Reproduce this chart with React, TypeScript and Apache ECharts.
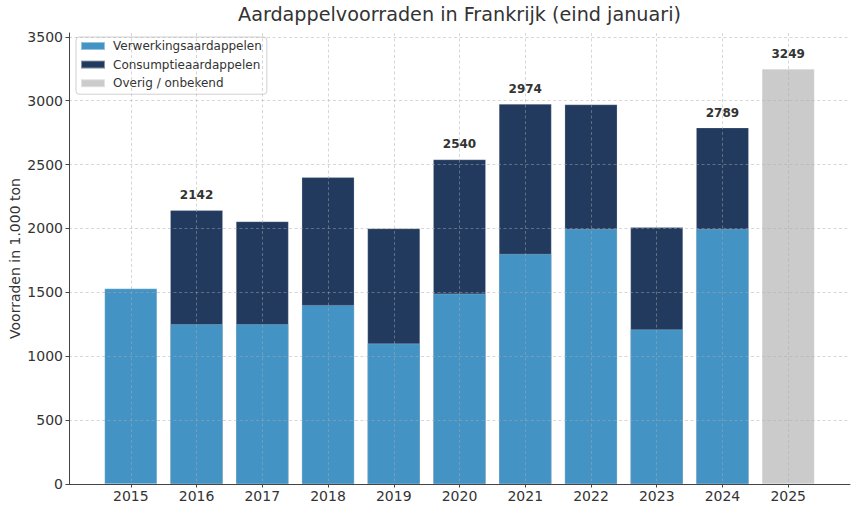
import React, { useEffect, useRef } from "react";
import * as echarts from "echarts";

const years = ["2015", "2016", "2017", "2018", "2019", "2020", "2021", "2022", "2023", "2024", "2025"];
const processing = [1530, 1250, 1250, 1400, 1100, 1490, 1800, 1995, 1210, 1995, null];
const consumption = [null, 892, 805, 1000, 900, 1050, 1174, 975, 800, 794, null];
const other = [null, null, null, null, null, null, null, null, null, null, 3249];
const totalLabels = [null, 2142, null, null, null, 2540, 2974, null, null, 2789, 3249];
const yTicks = [0, 500, 1000, 1500, 2000, 2500, 3000, 3500];
const seriesNames = ["Verwerkingsaardappelen", "Consumptieaardappelen", "Overig / onbekend"];
const titleText = "Aardappelvoorraden in Frankrijk (eind januari)";
const yName = "Voorraden in 1.000 ton";

const FONT = "DejaVu Sans";
const xPositions = years.map((_, i) => i);

export default function App() {
  const ref = useRef<HTMLDivElement>(null);
  useEffect(() => {
    if (!ref.current) return;
    const chart = echarts.init(ref.current, undefined, { renderer: "svg" });
    const gridLine = {
      show: true,
      lineStyle: { color: "rgba(170,170,170,0.6)", width: 0.8, type: [3, 2.5] as any },
    };
    const withLabel = (i: number, v: number | null) => {
      const lbl = totalLabels[i];
      if (v == null) return [i, null];
      if (lbl == null) return [i, v];
      return {
        value: [i, v],
        label: {
          show: true,
          position: "top",
          distance: 9,
          formatter: String(lbl),
          fontFamily: FONT,
          fontWeight: "bold",
          fontSize: 12,
          color: "#333",
        },
      };
    };
    // top of the dark (consumption) bars = processing + consumption
    const consumptionTop = consumption.map((c, i) =>
      c == null ? null : (processing[i] ?? 0) + c
    );
    const barCommon = {
      type: "bar",
      barWidth: 52.6,
      barGap: "-100%",
    };
    const border = { borderColor: "rgba(255,255,255,0.45)", borderWidth: 0.5 };
    chart.setOption({
      animation: false,
      textStyle: { fontFamily: FONT },
      title: {
        text: titleText,
        left: 459.5,
        textAlign: "center",
        top: 5,
        padding: 0,
        textStyle: { fontFamily: FONT, fontSize: 19.2, fontWeight: "normal", color: "#333" },
      },
      legend: {
        orient: "vertical",
        left: 76,
        top: 37,
        itemWidth: 24,
        itemHeight: 8,
        itemGap: 6.6,
        padding: [3, 5, 5, 4],
        backgroundColor: "rgba(255,255,255,0.85)",
        borderColor: "#d0d0d0",
        borderWidth: 1,
        borderRadius: 3,
        icon: "rect",
        textStyle: { fontFamily: FONT, fontSize: 12, color: "#333", padding: [0, 0, 0, 3] },
        data: seriesNames,
      },
      grid: { left: 69, right: 8, top: 33, bottom: 28, containLabel: false, outerBoundsMode: "none" },
      xAxis: {
        type: "value",
        min: -0.94,
        max: 10.94,
        z: 5,
        axisLine: { show: true, onZero: false, lineStyle: { color: "#444", width: 1 } },
        axisTick: { show: true, length: 3.5, customValues: xPositions, lineStyle: { color: "#444" } },
        axisLabel: {
          customValues: xPositions,
          formatter: (v: number) => years[Math.round(v)] ?? "",
          fontFamily: FONT,
          fontSize: 14,
          color: "#333",
          margin: 5,
        },
        splitLine: gridLine,
      },
      yAxis: {
        type: "value",
        min: 0,
        max: 3530,
        z: 5,
        name: yName,
        nameLocation: "middle",
        nameGap: 47,
        nameMoveOverlap: false,
        nameTextStyle: { fontFamily: FONT, fontSize: 14, color: "#333" },
        axisLine: { show: true, onZero: false, lineStyle: { color: "#444", width: 1 } },
        axisTick: { show: true, length: 3.5, customValues: yTicks, lineStyle: { color: "#444" } },
        axisLabel: {
          customValues: yTicks,
          formatter: (v: number) => String(v),
          fontFamily: FONT,
          fontSize: 14,
          color: "#333",
          margin: 6,
        },
        splitLine: gridLine,
      },
      series: [
        {
          ...barCommon,
          name: seriesNames[1],
          z: 2,
          itemStyle: { ...border, color: "#223a5e" },
          data: consumptionTop.map((v, i) => withLabel(i, v)),
        },
        {
          ...barCommon,
          name: seriesNames[0],
          z: 3,
          itemStyle: { ...border, color: "#4393c4" },
          data: processing.map((v, i) => [i, v]),
        },
        {
          ...barCommon,
          name: seriesNames[2],
          z: 2,
          itemStyle: { ...border, color: "#cbcbcb" },
          data: other.map((v, i) => withLabel(i, v)),
        },
      ],
    });
    return () => chart.dispose();
  }, []);
  return (
    <div
      ref={ref}
      style={{ position: "fixed", left: 0, top: 0, width: 858, height: 512, background: "#fff" }}
    />
  );
}
